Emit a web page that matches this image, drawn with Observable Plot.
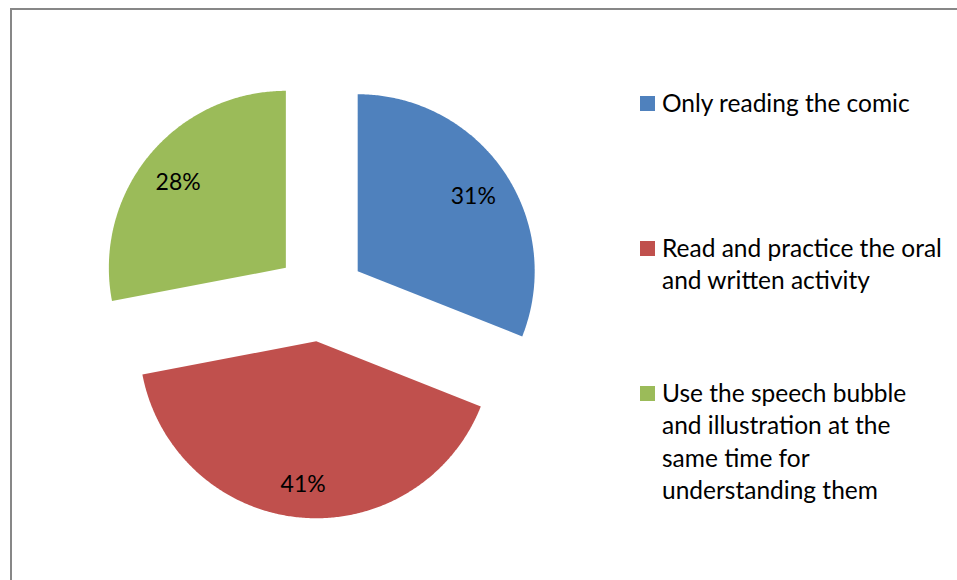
<!DOCTYPE html>
<html>
<head>
<meta charset="utf-8">
<script src="https://cdn.jsdelivr.net/npm/d3@7"></script>
<script src="https://cdn.jsdelivr.net/npm/@observablehq/plot@0.6"></script>
<style>
  html, body { margin: 0; padding: 0; background: #fff; }
  #wrap { position: relative; width: 957px; height: 580px; overflow: hidden; font-family: Lato, "Open Sans", sans-serif; }
  #frame { position: absolute; left: 10px; top: 8px; width: 1000px; height: 700px; border-left: 2px solid #878787; border-top: 2px solid #878787; box-sizing: border-box; }
  #chart { position: absolute; left: 0; top: 0; }
  .lg { position: absolute; left: 640px; font-size: 24.5px; line-height: 32.5px; color: #000; }
  .lg .sw { position: absolute; left: 0; top: 9px; width: 15px; height: 15px; }
  .lg .tx { position: absolute; left: 22px; top: 0; white-space: nowrap; }
</style>
</head>
<body>
<div id="wrap">
  <div id="frame"></div>
  <div id="chart"></div>
</div>
<script>
const categories = [
  "Only reading the comic",
  "Read and practice the oral and written activity",
  "Use the speech bubble and illustration at the same time for understanding them"
];
const values = [31, 41, 28];
const labels = ["31%", "41%", "28%"];
const colors = ["#4F81BD", "#C0504D", "#9BBB59"];
const legendLines = [
  ["Only reading the comic"],
  ["Read and practice the oral", "and written activity"],
  ["Use the speech bubble", "and illustration at the", "same time for", "understanding them"]
];

const W = 957, H = 580;
const cxPx = 320, cyPx = 296, rPx = 177;
const explode = 0.254; // fraction of radius
const labelR = 0.79;

// build slices in unit coordinates (radius = 1), angle clockwise from 12 o'clock
const total = d3.sum(values);
const pts = [];
const labs = [];
let acc = 0;
values.forEach((v, i) => {
  const a0 = acc / total * 2 * Math.PI;
  acc += v;
  const a1 = acc / total * 2 * Math.PI;
  const am = (a0 + a1) / 2;
  const ox = explode * Math.sin(am), oy = explode * Math.cos(am);
  pts.push({cat: categories[i], x: ox, y: oy});
  const n = Math.max(2, Math.ceil((a1 - a0) / (Math.PI / 360)));
  for (let k = 0; k <= n; k++) {
    const a = a0 + (a1 - a0) * k / n;
    pts.push({cat: categories[i], x: ox + Math.sin(a), y: oy + Math.cos(a)});
  }
  pts.push({cat: categories[i], x: ox, y: oy});
  labs.push({label: labels[i], x: ox + labelR * Math.sin(am), y: oy + labelR * Math.cos(am)});
});

const chart = Plot.plot({
  width: W,
  height: H,
  margin: 0,
  x: {domain: [-cxPx / rPx, (W - cxPx) / rPx], axis: null},
  y: {domain: [(cyPx - H) / rPx, cyPx / rPx], axis: null},
  color: {domain: categories, range: colors},
  style: {background: "transparent", fontFamily: "Lato, 'Open Sans', sans-serif"},
  marks: [
    Plot.line(pts, {x: "x", y: "y", z: "cat", fill: "cat", stroke: "none", curve: "linear"}),
    Plot.text(labs, {x: "x", y: "y", text: "label", fontSize: 23, fill: "#000", dy: 4})
  ]
});
document.getElementById("chart").appendChild(chart);

// legend
const tops = [86.75, 231.75, 376.75];
const wrap = document.getElementById("wrap");
categories.forEach((c, i) => {
  const e = document.createElement("div");
  e.className = "lg";
  e.style.top = tops[i] + "px";
  const sw = document.createElement("div");
  sw.className = "sw";
  sw.style.background = colors[i];
  e.appendChild(sw);
  const tx = document.createElement("div");
  tx.className = "tx";
  tx.innerHTML = legendLines[i].join("<br>");
  e.appendChild(tx);
  wrap.appendChild(e);
});
</script>
</body>
</html>
